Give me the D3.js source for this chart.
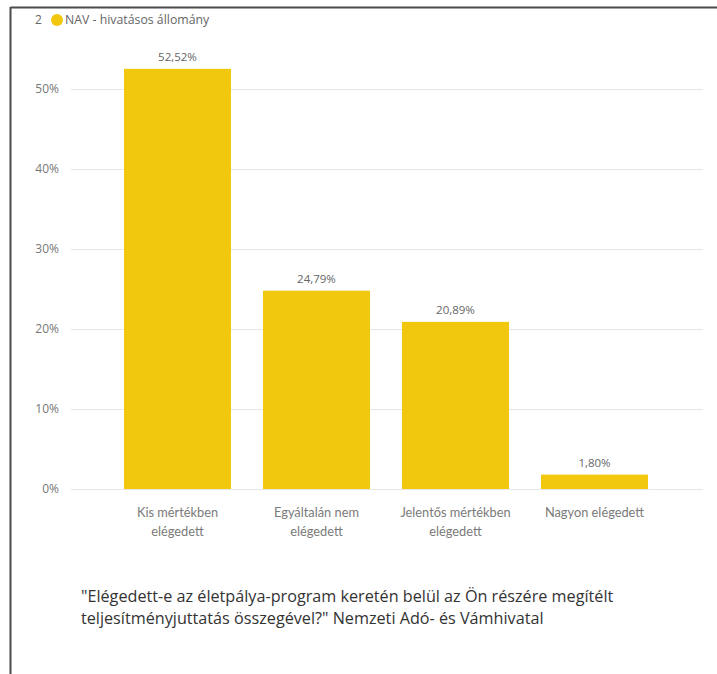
<!DOCTYPE html>
<html><head><meta charset="utf-8">
<script src="https://cdn.jsdelivr.net/npm/d3@7"></script>
<style>
html,body{margin:0;padding:0;background:#fff;}
svg{display:block;}
</style></head>
<body>
<svg id="c" width="717" height="674"></svg>
<script>
const categories = [["Kis mértékben","elégedett"],["Egyáltalán nem","elégedett"],["Jelentős mértékben","elégedett"],["Nagyon elégedett"]];
const values = [52.52, 24.79, 20.89, 1.80];
const valueLabels = ["52,52%","24,79%","20,89%","1,80%"];
const yTicks = [0,10,20,30,40,50];
const legendNum = "2";
const seriesName = "NAV - hivatásos állomány";
const captionLines = ["\"Elégedett-e az életpálya-program keretén belül az Ön részére megítélt","teljesítményjuttatás összegével?\" Nemzeti Adó- és Vámhivatal"];

const svg = d3.select("#c");
const font = "'Open Sans', 'Noto Sans', sans-serif";
const font2 = "Lato, 'Open Sans', sans-serif";
const barColor = "#F2C80F";

// frame
svg.append("line").attr("x1",10.5).attr("x2",717).attr("y1",7.5).attr("y2",7.5).attr("stroke","#4a4a4a").attr("stroke-width",2);
svg.append("line").attr("x1",10.5).attr("x2",10.5).attr("y1",7).attr("y2",674).attr("stroke","#4a4a4a").attr("stroke-width",2);

const x = d3.scaleBand().domain(d3.range(values.length)).range([108,664]).paddingInner(0.23).paddingOuter(0.115);
const y = d3.scaleLinear().domain([0,50]).range([489,89]);

// gridlines
svg.append("g").selectAll("line").data(yTicks).join("line")
  .attr("x1",71).attr("x2",703).attr("y1",d=>Math.round(y(d))+0.5).attr("y2",d=>Math.round(y(d))+0.5)
  .attr("stroke","#e6e6e6").attr("stroke-width",1);

// y axis labels
const yAxis = d3.axisLeft(y).tickValues(yTicks).tickFormat(d=>d+"%").tickSize(0).tickPadding(0);
const ya = svg.append("g").attr("transform","translate(59,0)").call(yAxis);
ya.select(".domain").remove();
ya.selectAll("text").attr("fill","#777").style("font-family",font).style("font-size","12px");

// bars
svg.append("g").selectAll("rect").data(values).join("rect")
  .attr("x",(d,i)=>x(i)).attr("width",x.bandwidth())
  .attr("y",d=>y(d)).attr("height",d=>y(0)-y(d)).attr("fill",barColor);

// value labels
svg.append("g").selectAll("text").data(values).join("text")
  .attr("x",(d,i)=>x(i)+x.bandwidth()/2).attr("y",d=>y(d)-8)
  .attr("text-anchor","middle").attr("fill","#666")
  .style("font-family",font).style("font-size","11.5px")
  .text((d,i)=>valueLabels[i]);

// category labels
const cat = svg.append("g").selectAll("text").data(categories).join("text")
  .attr("x",(d,i)=>x(i)+x.bandwidth()/2).attr("y",517)
  .attr("text-anchor","middle").attr("fill","#7a7a7a")
  .style("font-family",font2).style("font-size","12.8px");
cat.selectAll("tspan").data(d=>d).join("tspan")
  .attr("x",function(){return d3.select(this.parentNode).attr("x");})
  .attr("dy",(d,i)=>i===0?0:19).text(d=>d);

// legend
svg.append("text").attr("x",35).attr("y",24).attr("fill","#666").style("font-family",font).style("font-size","12px").text(legendNum);
svg.append("circle").attr("cx",57).attr("cy",20).attr("r",6).attr("fill",barColor);
svg.append("text").attr("x",65).attr("y",24).attr("fill","#666").style("font-family",font).style("font-size","12.3px").text(seriesName);

// caption
svg.append("g").selectAll("text").data(captionLines).join("text")
  .attr("x",81).attr("y",(d,i)=>602+i*22).attr("fill","#333")
  .style("font-family",font).style("font-size","16.2px").text(d=>d);
</script>
</body></html>
